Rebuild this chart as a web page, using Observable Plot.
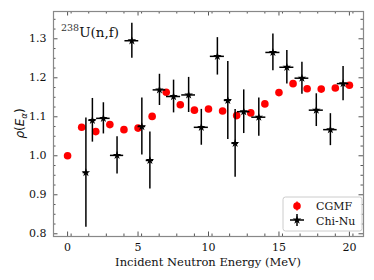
<!DOCTYPE html>
<html><head><meta charset="utf-8">
<script src="https://cdn.jsdelivr.net/npm/d3@7"></script>
<script src="https://cdn.jsdelivr.net/npm/@observablehq/plot@0.6"></script>
<style>body{margin:0;background:#fff;} svg{display:block;}</style>
</head><body><div id="chart"></div>
<script>
// ---- data ----
const cgmfE = [0,1,2,3,4,5,6,7,8,9,10,11,12,13,14,15,16,17,18,19,20];
const cgmfV = [1.000,1.073,1.062,1.080,1.067,1.071,1.101,1.163,1.131,1.117,1.120,1.115,1.103,1.110,1.133,1.162,1.185,1.172,1.171,1.174,1.181];
const chiE = [1.30,1.76,2.54,3.51,4.56,5.27,5.84,6.52,7.52,8.59,9.49,10.63,11.37,11.89,12.50,13.57,14.57,15.56,16.63,17.65,18.65,19.55];
const chiV = [0.957,1.091,1.096,1.001,1.295,1.075,0.988,1.169,1.152,1.156,1.073,1.255,1.142,1.032,1.113,1.099,1.265,1.227,1.199,1.117,1.067,1.185];
const chiYErr = [0.140,0.056,0.040,0.048,0.045,0.073,0.073,0.040,0.042,0.045,0.046,0.048,0.100,0.087,0.056,0.049,0.047,0.043,0.041,0.042,0.041,0.044];
const chiXErr = [0.20,0.26,0.48,0.47,0.49,0.27,0.26,0.45,0.50,0.49,0.50,0.50,0.25,0.23,0.44,0.50,0.50,0.50,0.49,0.50,0.48,0.41];
const xMajor = [0,5,10,15,20];
const yMajor = [0.8,0.9,1.0,1.1,1.2,1.3];
const xMinor = d3.range(-1,21.01,1.25).map(v=>Math.round((v+1.25)*100)/100).filter(v=>v>-1&&v<21&&v%5!==0);
const yMinor = d3.range(0.8,1.37,0.025).map(v=>Math.round(v*1000)/1000).filter(v=>Math.abs(v*10-Math.round(v*10))>1e-6);
const xLabel = "Incident Neutron Energy (MeV)";
const seriesNames = ["CGMF","Chi-Nu"];

const cgmf = cgmfE.map((e,i)=>({e, v:cgmfV[i]}));
const chi = chiE.map((e,i)=>({e, v:chiV[i], dy:chiYErr[i], dx:chiXErr[i]}));

// ---- layout ----
const W=374,H=280,mL=53,mR=11,mT=11,mB=44;
const fw=W-mL-mR, fh=H-mT-mB;
const tickCol="#555", spineCol="#888";
const majL=4.5, minL=2.5;
const starR=2.7;

const chart = Plot.plot({
  width:W, height:H, marginLeft:mL, marginRight:mR, marginTop:mT, marginBottom:mB,
  x:{domain:[-1,21]}, y:{domain:[0.793,1.37]},
  style:{fontFamily:"'DejaVu Serif', serif", fontSize:"11px", color:"#111", background:"#fff"},
  marks:[
    Plot.tickX(xMajor,{x:d=>d, insetTop:fh-majL, stroke:tickCol}),
    Plot.tickX(xMajor,{x:d=>d, insetBottom:fh-majL, stroke:tickCol}),
    Plot.tickX(xMinor,{x:d=>d, insetTop:fh-minL, stroke:tickCol}),
    Plot.tickX(xMinor,{x:d=>d, insetBottom:fh-minL, stroke:tickCol}),
    Plot.tickY(yMajor,{y:d=>d, insetRight:fw-majL, stroke:tickCol}),
    Plot.tickY(yMajor,{y:d=>d, insetLeft:fw-majL, stroke:tickCol}),
    Plot.tickY(yMinor,{y:d=>d, insetRight:fw-minL, stroke:tickCol}),
    Plot.tickY(yMinor,{y:d=>d, insetLeft:fw-minL, stroke:tickCol}),
    Plot.frame({stroke:spineCol, strokeWidth:1.2}),
    Plot.axisX(xMajor,{tickSize:0, tickPadding:7, label:null, tickFormat:d=>String(d), fill:"#111"}),
    Plot.axisY(yMajor,{tickSize:0, tickPadding:7, label:null, tickFormat:d=>d.toFixed(1), fill:"#111"}),
    Plot.dot(cgmf,{x:"e", y:"v", r:3.8, fill:"#ff0000", stroke:null}),
    Plot.ruleX(chi,{x:"e", y1:d=>d.v-d.dy, y2:d=>d.v+d.dy, stroke:"#000", strokeWidth:1.5}),
    Plot.ruleY(chi,{y:"v", x1:d=>d.e-d.dx, x2:d=>d.e+d.dx, stroke:"#000", strokeWidth:1.5}),
    Plot.dot(chi,{x:"e", y:"v", symbol:"star", r:starR, fill:"#000", stroke:null}),
  ]
});
document.getElementById("chart").append(chart);

const svg = d3.select(chart);
const ff = "'DejaVu Serif', serif";
svg.append("text").attr("x", mL+fw/2).attr("y", 266).attr("text-anchor","middle")
  .attr("font-family", ff).attr("font-size", 11.5).attr("fill","#111").text(xLabel);
const yl = svg.append("text").attr("transform", `translate(24,${mT+fh/2}) rotate(-90)`)
  .attr("text-anchor","middle").attr("font-family","'DejaVu Sans', sans-serif").attr("font-size", 12).attr("fill","#111");
yl.append("tspan").attr("font-style","italic").text("ρ");
yl.append("tspan").text("(");
yl.append("tspan").attr("font-style","italic").text("E");
yl.append("tspan").attr("font-style","italic").attr("font-size",8.5).attr("dy",2.5).text("α");
yl.append("tspan").attr("dy",-2.5).text(")");
const an = svg.append("text").attr("x", 61).attr("y", 36.5).attr("text-anchor","start")
  .attr("font-family", ff).attr("font-size", 13.5).attr("fill","#111");
an.append("tspan").attr("font-size",9.5).attr("dy",-5.5).attr("fill","#333").text("238");
an.append("tspan").attr("dy",5.5).text("U(n,f)");
const lg = svg.append("g").attr("text-anchor","start");
lg.append("rect").attr("x",283).attr("y",197).attr("width",79).attr("height",34).attr("rx",2.5)
  .attr("fill","#fff").attr("fill-opacity",0.85).attr("stroke","#ccc").attr("stroke-width",1);
lg.append("line").attr("x1",297).attr("x2",297).attr("y1",201.5).attr("y2",210.5).attr("stroke","#ff0000").attr("stroke-width",1.5);
lg.append("circle").attr("cx",297).attr("cy",206).attr("r",3.8).attr("fill","#ff0000");
lg.append("line").attr("x1",297).attr("x2",297).attr("y1",214).attr("y2",226).attr("stroke","#000").attr("stroke-width",1.5);
lg.append("line").attr("x1",290).attr("x2",304).attr("y1",220).attr("y2",220).attr("stroke","#000").attr("stroke-width",1.5);
lg.append("path").attr("transform","translate(297,220)").attr("d", d3.symbol(d3.symbolStar, starR*starR*Math.PI)()).attr("fill","#000");
lg.append("text").attr("x",316).attr("y",210).attr("font-family",ff).attr("font-size",11).attr("fill","#111").text(seriesNames[0]);
lg.append("text").attr("x",316).attr("y",224.5).attr("font-family",ff).attr("font-size",11).attr("fill","#111").text(seriesNames[1]);
</script></body></html>
